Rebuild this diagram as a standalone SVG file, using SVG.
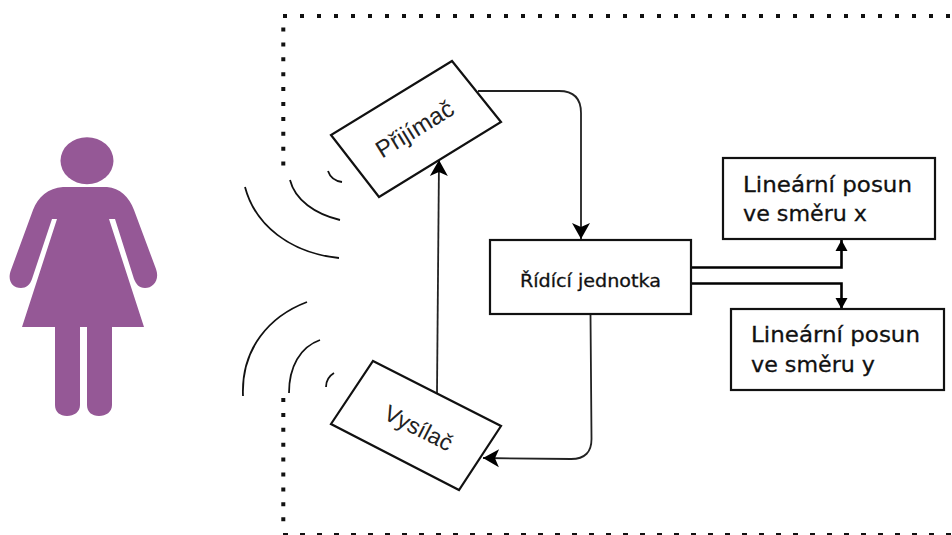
<svg xmlns="http://www.w3.org/2000/svg" width="952" height="535" viewBox="0 0 952 535">
<style>
.box{fill:#fff;stroke:#111;stroke-width:2.200}
.conn{fill:none;stroke:#222;stroke-width:1.800}
.bold{fill:none;stroke:#000;stroke-width:2.600}
.arc{fill:none;stroke:#111;stroke-width:1.800}
.dot{fill:none;stroke:#111;stroke-width:4}
.rot{font-family:"Liberation Sans",Arial,sans-serif;fill:#222;text-anchor:middle}
.lbl{font-family:"DejaVu Sans",Verdana,sans-serif;fill:#111;stroke:#111;stroke-width:.3}
</style>
<defs>
<marker id="a" markerUnits="userSpaceOnUse" markerWidth="20" markerHeight="20" refX="18" refY="10" orient="auto"><path d="M2 1L18 10L2 19L6 10Z" fill="#000"/></marker>
<marker id="b" markerUnits="userSpaceOnUse" markerWidth="14" markerHeight="14" refX="12" refY="7" orient="auto"><path d="M1 1L12 7L1 13Z" fill="#000"/></marker>
</defs>
<rect width="952" height="535" fill="#fff"/>
<g id="frame">
<path class="dot" stroke-dasharray="4 13" d="M283 16H952"/>
<path class="dot" stroke-dasharray="4 10.9" d="M283.300 27.500V166"/>
<path class="dot" stroke-dasharray="4 10.9" d="M283.300 398V522"/>
<path fill="none" stroke="#111" stroke-width="2" stroke-dasharray="5 12" d="M283 534H952"/>
</g>
<g id="person" fill="#955896">
<ellipse cx="87" cy="160.700" rx="26.500" ry="23.500"/>
<path d="M63 187H107C120 188 129 197 134 210L156 269C160 280 153 288 145 288C139 288 136 284 134 279L115 219H109L144 327H112V405C112 412 106 416 99 416C92 416 87 412 87 405V327H80V405C80 412 74 416 67 416C60 416 55 412 55 405V327H22L57 219H52L32 279C30 285 26 288 21 288C12 288 7 280 11 270L33 210C38 197 48 188 63 187Z"/>
</g>
<g id="waves">
<path class="arc" d="M245 187C255 225 290 253 339 258"/>
<path class="arc" d="M290 180C295 200 315 214 340 220"/>
<path class="arc" d="M328 171C330 177 335 181 342 182"/>
<path class="arc" d="M307 302C270 316 241 348 243 396"/>
<path class="arc" d="M320 340C300 347 289 367 289 393"/>
<path class="arc" d="M334 373C329 376 326 381 326 387"/>
</g>
<g id="connectors">
<path class="conn" d="M478 91H559Q581 91 581 113V239" marker-end="url(#a)"/>
<path class="conn" d="M437 393L439 160" marker-end="url(#a)"/>
<path class="conn" d="M590.500 314L591.500 438Q592 459 571 459L483 458" marker-end="url(#a)"/>
<path class="bold" stroke-width="2" d="M692 267.500H841.500V240" marker-end="url(#b)"/>
<path class="bold" d="M692 283.500H841.500V309" marker-end="url(#b)"/>
</g>
<g id="prijimac">
<polygon class="box" points="452,61 501,122 379,197 331,135"/>
<text class="rot" font-size="24" transform="translate(419 136) rotate(-31.500)">Přijímač</text>
</g>
<g id="vysilac">
<polygon class="box" points="373,361 501,426 459,490 331,424"/>
<text class="rot" font-size="23" transform="translate(415 435) rotate(27)">Vysílač</text>
</g>
<g id="ridici">
<rect class="box" x="490" y="240" width="201" height="74"/>
<text class="lbl" x="520" y="286.500" font-size="18" textLength="141" lengthAdjust="spacingAndGlyphs">Řídící jednotka</text>
</g>
<g id="posun-x">
<rect class="box" stroke-width="2.500" x="723" y="158" width="212" height="81"/>
<text class="lbl" x="743" y="192" font-size="22" textLength="169" lengthAdjust="spacingAndGlyphs">Lineární posun</text>
<text class="lbl" x="743" y="221" font-size="22" textLength="124" lengthAdjust="spacingAndGlyphs">ve směru x</text>
</g>
<g id="posun-y">
<rect class="box" x="731" y="309" width="213" height="81"/>
<text class="lbl" x="751" y="342" font-size="22" textLength="169" lengthAdjust="spacingAndGlyphs">Lineární posun</text>
<text class="lbl" x="751" y="372" font-size="22" textLength="124" lengthAdjust="spacingAndGlyphs">ve směru y</text>
</g>
</svg>
